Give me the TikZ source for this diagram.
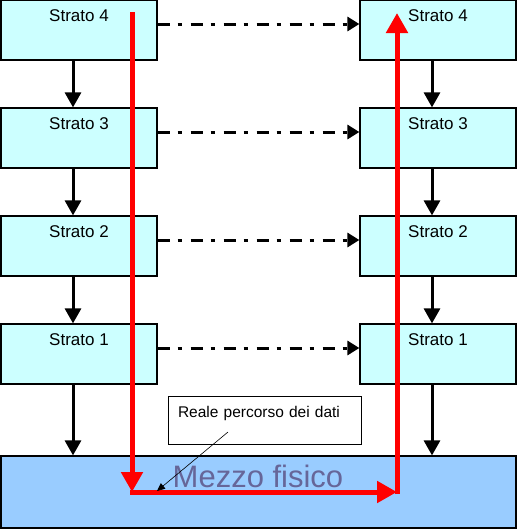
\documentclass[tikz,border=0pt]{standalone}
\usepackage{fontspec}
\setmainfont{Liberation Sans}
\usepackage{tikz}
\usetikzlibrary{arrows.meta}

\definecolor{stratofill}{HTML}{CCFFFF}
\definecolor{mezzofill}{HTML}{99CCFF}
\definecolor{mezzotxt}{HTML}{666699}

\begin{document}
\begin{tikzpicture}[x=1pt,y=-1pt,
		strato/.style={draw,line width=1.2pt,fill=stratofill,minimum width=156pt,minimum height=60pt,inner sep=0pt,text height=16pt,text depth=34pt,font=\fontsize{17}{20}\selectfont},
		giu/.style={-{Triangle[length=15pt,width=16pt]},line width=3pt},
		pari/.style={-{Triangle[length=12pt,width=14pt]},line width=3pt,dash pattern=on 12pt off 8pt on 4pt off 9pt},
		percorso/.style={-{Triangle[length=20pt,width=21pt]},red,line width=5pt}]
		\useasboundingbox (0,0) rectangle (519,531);
		% stack on the left
		\node[strato] (L4) at (79,30) {Strato 4};
		\node[strato] (L3) at (79,138) {Strato 3};
		\node[strato] (L2) at (79,246) {Strato 2};
		\node[strato] (L1) at (79,354) {Strato 1};
		% stack on the right
		\node[strato] (R4) at (438,30) {Strato 4};
		\node[strato] (R3) at (438,138) {Strato 3};
		\node[strato] (R2) at (438,246) {Strato 2};
		\node[strato] (R1) at (438,354) {Strato 1};
		% physical medium
		\node[draw,line width=1.2pt,fill=mezzofill,minimum width=515pt,minimum height=72pt,inner sep=0pt] (mezzo) at (258.5,492) {};
		\node[mezzotxt,font=\fontsize{31}{36}\selectfont] (mz) at (258,476) {Mezzo fisico};
		% going down inside each stack
		\draw[giu] ([xshift=-6pt]L4.south) -- ([xshift=-6pt]L3.north);
		\draw[giu] ([xshift=-6pt]L3.south) -- ([xshift=-6pt]L2.north);
		\draw[giu] ([xshift=-6pt]L2.south) -- ([xshift=-6pt]L1.north);
		\draw[giu] ([xshift=-6pt]L1.south) -- ([xshift=-6pt]L1.south |- mezzo.north);
		\draw[giu] ([xshift=-6pt]R4.south) -- ([xshift=-6pt]R3.north);
		\draw[giu] ([xshift=-6pt]R3.south) -- ([xshift=-6pt]R2.north);
		\draw[giu] ([xshift=-6pt]R2.south) -- ([xshift=-6pt]R1.north);
		\draw[giu] ([xshift=-6pt]R1.south) -- ([xshift=-6pt]R1.south |- mezzo.north);
		% peer to peer (virtual)
		\draw[pari] ([yshift=6pt]L4.east) -- ([yshift=6pt]R4.west);
		\draw[pari] ([yshift=6pt]L3.east) -- ([yshift=6pt]R3.west);
		\draw[pari] ([yshift=6pt]L2.east) -- ([yshift=6pt]R2.west);
		\draw[pari] ([yshift=6pt]L1.east) -- ([yshift=6pt]R1.west);
		% real path of the data
		\coordinate (r1) at (132,12);
		\coordinate (r2) at (132,492);
		\coordinate (r3) at (397,492);
		\coordinate (r4) at (397,494);
		\coordinate (r5) at (397,13);
		\draw[percorso] (r2 -| 130,0) -- (r3);
		\draw[percorso] (r1) -- (r2);
		\draw[percorso] (r4) -- (r5);
		% callout
		\node[draw,fill=white,line width=0.8pt,inner xsep=10pt,inner ysep=5pt,text width=173pt,minimum height=48pt,align=left,text height=16pt,text depth=22pt,font=\fontsize{15.5}{18}\selectfont] (lbl) at (264.5,420) {Reale percorso dei dati};
		\coordinate (p1) at (228,432);
		\coordinate (p2) at (157,491);
		\draw[line width=0.6pt,-{Triangle[length=8pt,width=7pt]}] (p1) -- (p2);
	\end{tikzpicture}
\end{document}
